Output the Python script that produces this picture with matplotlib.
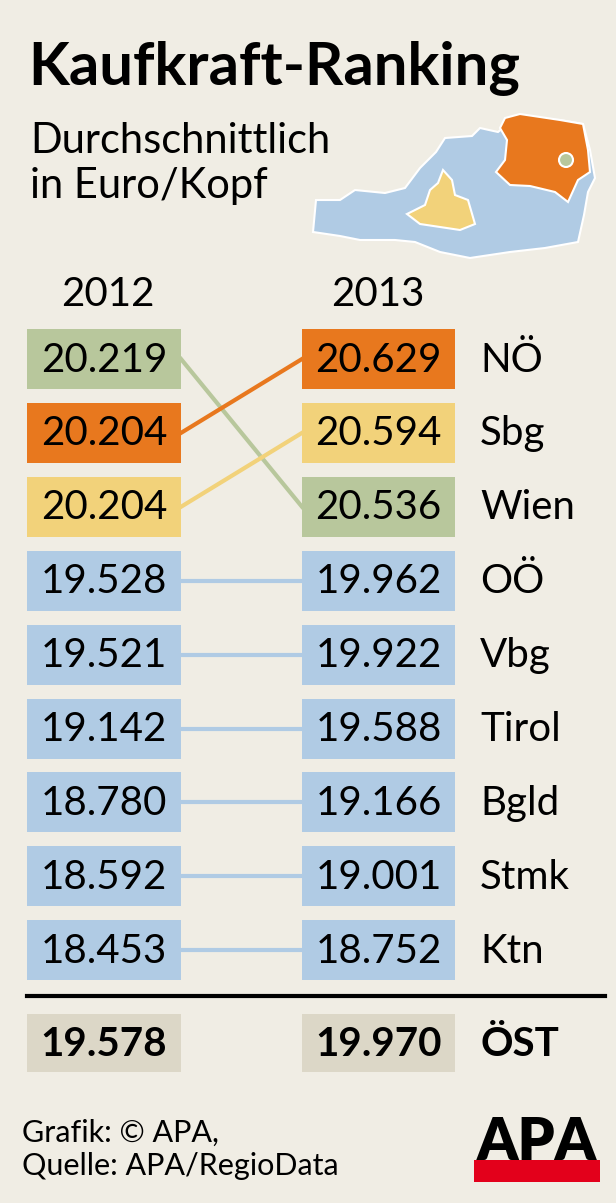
import matplotlib.pyplot as plt
from matplotlib.patches import Rectangle, Polygon, Circle

regions = ["NÖ", "Sbg", "Wien", "OÖ", "Vbg", "Tirol", "Bgld", "Stmk", "Ktn"]
v2013 = ["20.629", "20.594", "20.536", "19.962", "19.922", "19.588", "19.166", "19.001", "18.752"]
# 2012 order as shown on the left (region names)
order2012 = ["Wien", "NÖ", "Sbg", "OÖ", "Vbg", "Tirol", "Bgld", "Stmk", "Ktn"]
v2012 = ["20.219", "20.204", "20.204", "19.528", "19.521", "19.142", "18.780", "18.592", "18.453"]
avg2012, avg2013 = "19.578", "19.970"

BG = "#f0ede4"
BLUE = "#b0cbe4"
colors = {"NÖ": "#e8781e", "Sbg": "#f2d27a", "Wien": "#b8c79c"}

fig = plt.figure(figsize=(6.16, 12.03), dpi=100, facecolor=BG)
ax = fig.add_axes([0, 0, 1, 1])
ax.set_xlim(0, 616)
ax.set_ylim(1203, 0)
ax.axis("off")
plt.rcParams["font.family"] = ["Lato", "DejaVu Sans"]

ax.text(28, 68, "Kaufkraft-Ranking", fontsize=43, fontweight="bold", va="center", ha="left")
ax.text(30, 141, "Durchschnittlich", fontsize=30, va="center")
ax.text(30, 186, "in Euro/Kopf", fontsize=30, va="center")

# map of Austria (rough)
austria = [(313, 232), (316, 200), (340, 200), (355, 190), (385, 193), (405, 188), (420, 168), (436, 152),
           (445, 138), (472, 136), (480, 128), (498, 132), (515, 118), (560, 120), (583, 124), (590, 150),
           (595, 178), (588, 192), (584, 215), (578, 242), (545, 248), (510, 252), (470, 258), (440, 252),
           (415, 242), (395, 240), (360, 240), (340, 236)]
noe = [(505, 118), (520, 114), (560, 120), (583, 124), (588, 150), (590, 172), (578, 180), (568, 202),
       (555, 192), (530, 186), (510, 185), (496, 172), (505, 160), (507, 140), (500, 128)]
sbg = [(443, 170), (452, 180), (455, 195), (468, 200), (475, 224), (460, 230), (420, 224), (407, 214),
       (425, 205), (430, 190), (438, 183)]
ax.add_patch(Polygon(austria, closed=True, fc=BLUE, ec="white", lw=1.5))
ax.add_patch(Polygon(noe, closed=True, fc=colors["NÖ"], ec="white", lw=1.5))
ax.add_patch(Polygon(sbg, closed=True, fc=colors["Sbg"], ec="white", lw=1.5))
ax.add_patch(Circle((566, 160), 7, fc=colors["Wien"], ec="white", lw=1.5))

ax.text(108, 294, "2012", fontsize=29, ha="center", va="center")
ax.text(378, 294, "2013", fontsize=29, ha="center", va="center")

y0, dy, bh = 359, 73.9, 60
lx0, lx1, rx0, rx1 = 27, 181, 302, 455
fs = 29
for i, r in enumerate(order2012):
    yl = y0 + i * dy
    yr = y0 + regions.index(r) * dy
    c = colors.get(r, BLUE)
    ax.plot([lx1, rx0], [yl, yr], color=c, lw=3, zorder=1)
    ax.add_patch(Rectangle((lx0, yl - bh / 2), lx1 - lx0, bh, fc=c, ec="none", zorder=2))
    ax.text((lx0 + lx1) / 2, yl + 1, v2012[i], fontsize=fs, ha="center", va="center", zorder=3)
for i, r in enumerate(regions):
    yr = y0 + i * dy
    ax.add_patch(Rectangle((rx0, yr - bh / 2), rx1 - rx0, bh, fc=colors.get(r, BLUE), ec="none", zorder=2))
    ax.text((rx0 + rx1) / 2, yr + 1, v2013[i], fontsize=fs, ha="center", va="center", zorder=3)
    ax.text(480, yr + 1, r, fontsize=fs, ha="left", va="center")

ax.plot([27, 605], [996, 996], color="black", lw=3)
ax.add_patch(Rectangle((lx0, 1014), lx1 - lx0, 58, fc="#dcd7c7", ec="none"))
ax.add_patch(Rectangle((rx0, 1014), rx1 - rx0, 58, fc="#dcd7c7", ec="none"))
ax.text((lx0 + lx1) / 2, 1044, avg2012, fontsize=fs, fontweight="bold", ha="center", va="center")
ax.text((rx0 + rx1) / 2, 1044, avg2013, fontsize=fs, fontweight="bold", ha="center", va="center")
ax.text(480, 1044, "ÖST", fontsize=fs, fontweight="bold", ha="left", va="center")

ax.text(22, 1133, "Grafik: © APA,", fontsize=22, va="center")
ax.text(22, 1166, "Quelle: APA/RegioData", fontsize=22, va="center")
ax.add_patch(Rectangle((474, 1160), 126, 22, fc="#e3001b", ec="none"))
ax.text(537, 1160, "APA", fontsize=42, fontweight="heavy", ha="center", va="baseline")

fig.savefig("out.png", dpi=100, facecolor=BG)
